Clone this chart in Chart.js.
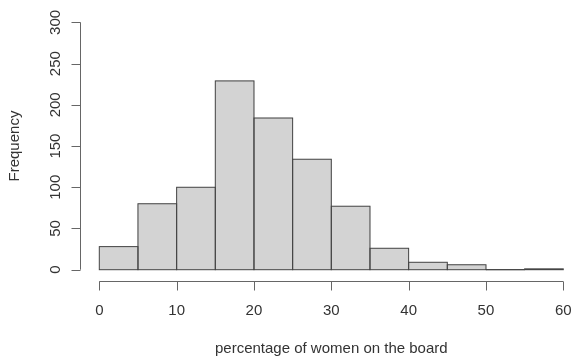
<!DOCTYPE html>
<html>
<head>
<meta charset="utf-8">
<script src="https://cdn.jsdelivr.net/npm/chart.js@4/dist/chart.umd.min.js"></script>
<style>
  html, body { margin: 0; padding: 0; background: #ffffff; }
  #wrap { width: 574px; height: 360px; }
</style>
</head>
<body>
<div id="wrap"><canvas id="hist" width="574" height="360"></canvas></div>
<script>
// Histogram: share of women on company boards, 5-point bins
const binEdges = [0, 5, 10, 15, 20, 25, 30, 35, 40, 45, 50, 55, 60];
const counts   = [28, 80, 100, 229, 184, 134, 77, 26, 9, 6, 0, 1];
const xTicks   = [0, 10, 20, 30, 40, 50, 60];
const yTicks   = [0, 50, 100, 150, 200, 250, 300];
const xTitle   = 'percentage of women on the board';
const yTitle   = 'Frequency';

const FONT = '15px "Liberation Sans", Arial, Helvetica, sans-serif';
const TEXT = '#333333';
const AXIS = '#666666';
const OUTLINE = '#444444';

// one bar per bin, centred between its edges
const bars = counts.map((c, i) => ({ x: (binEdges[i] + binEdges[i + 1]) / 2, y: c }));

// outlines every bin (including empty ones) like base-graphics rect()
const outlinePlugin = {
  id: 'binOutline',
  afterDatasetsDraw(chart) {
    const ctx = chart.ctx;
    const meta = chart.getDatasetMeta(0);
    ctx.save();
    ctx.strokeStyle = OUTLINE;
    ctx.lineWidth = 1;
    meta.data.forEach(el => {
      const p = el.getProps(['x', 'y', 'base', 'width'], true);
      ctx.strokeRect(p.x - p.width / 2, p.y, p.width, p.base - p.y);
    });
    ctx.restore();
  }
};

// detached axes with outward ticks and rotated y labels
const axesPlugin = {
  id: 'detachedAxes',
  afterDraw(chart) {
    const ctx = chart.ctx;
    const xs = chart.scales.x, ys = chart.scales.y;
    const area = chart.chartArea;
    const axisX = Math.round(area.left - 19) + 0.5;
    const axisY = Math.round(area.bottom + 11) + 0.5;
    const tick = 9;

    ctx.save();
    ctx.strokeStyle = AXIS;
    ctx.lineWidth = 1;

    // x axis
    const x0 = xs.getPixelForValue(xTicks[0]);
    const x1 = xs.getPixelForValue(xTicks[xTicks.length - 1]);
    ctx.beginPath();
    ctx.moveTo(x0, axisY); ctx.lineTo(x1, axisY);
    xTicks.forEach(v => {
      const px = Math.round(xs.getPixelForValue(v)) + 0.5;
      ctx.moveTo(px, axisY); ctx.lineTo(px, axisY + tick);
    });
    ctx.stroke();

    // y axis
    const y0 = ys.getPixelForValue(yTicks[0]);
    const y1 = ys.getPixelForValue(yTicks[yTicks.length - 1]);
    ctx.beginPath();
    ctx.moveTo(axisX, y0); ctx.lineTo(axisX, y1);
    yTicks.forEach(v => {
      const py = Math.round(ys.getPixelForValue(v)) + 0.5;
      ctx.moveTo(axisX, py); ctx.lineTo(axisX - tick, py);
    });
    ctx.stroke();

    ctx.fillStyle = TEXT;
    ctx.font = FONT;

    // x tick labels
    ctx.textAlign = 'center';
    ctx.textBaseline = 'alphabetic';
    xTicks.forEach(v => {
      ctx.fillText(String(v), xs.getPixelForValue(v), axisY + 33);
    });

    // y tick labels, reading upwards
    yTicks.forEach(v => {
      ctx.save();
      ctx.translate(axisX - 21, ys.getPixelForValue(v));
      ctx.rotate(-Math.PI / 2);
      ctx.fillText(String(v), 0, 0);
      ctx.restore();
    });

    // axis titles
    ctx.fillText(xTitle, (area.left + area.right) / 2, 353);
    ctx.save();
    ctx.translate(18.5, (area.top + area.bottom) / 2);
    ctx.rotate(-Math.PI / 2);
    ctx.fillText(yTitle, 0, 0);
    ctx.restore();

    ctx.restore();
  }
};

new Chart(document.getElementById('hist'), {
  type: 'bar',
  data: {
    datasets: [{
      data: bars,
      backgroundColor: '#d3d3d3',
      borderWidth: 0,
      barPercentage: 1,
      categoryPercentage: 1
    }]
  },
  options: {
    responsive: false,
    animation: false,
    events: [],
    layout: { padding: { left: 99.3, right: 10.7, top: 22.4, bottom: 90.3 } },
    plugins: { legend: { display: false }, tooltip: { enabled: false } },
    scales: {
      x: {
        type: 'linear', display: false, offset: false,
        min: binEdges[0], max: binEdges[binEdges.length - 1],
        ticks: { stepSize: 10 }, grid: { display: false }
      },
      y: {
        type: 'linear', display: false,
        min: yTicks[0], max: yTicks[yTicks.length - 1],
        ticks: { stepSize: 50 }, grid: { display: false }
      }
    }
  },
  plugins: [outlinePlugin, axesPlugin]
});
</script>
</body>
</html>
